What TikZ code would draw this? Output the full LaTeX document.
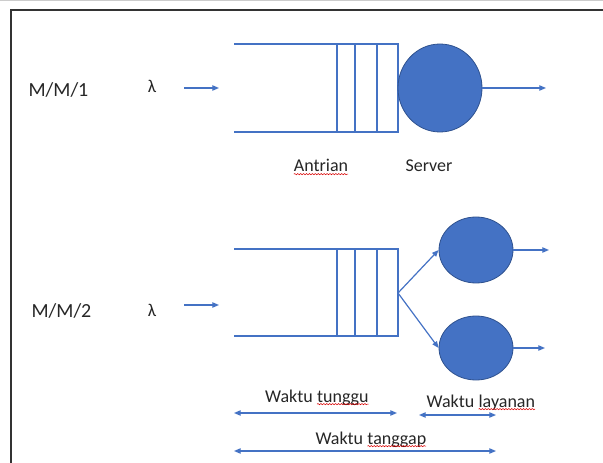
\documentclass[tikz,border=0pt]{standalone}
\usepackage{fontspec}
\setmainfont{Carlito}
\usetikzlibrary{arrows.meta,shapes.geometric,decorations.pathmorphing}
\definecolor{qblue}{HTML}{4472C4}
\definecolor{qdark}{HTML}{2F528F}
\definecolor{txt}{HTML}{262626}
\newcommand{\spellerr}[1]{\tikz[baseline=(w.base)]{\node[inner sep=0pt,outer sep=0pt,anchor=base](w){#1};\draw[red!85!black,line width=0.4pt,decorate,decoration={snake,amplitude=0.45pt,segment length=2.2pt}]([yshift=-1.6pt]w.base west)--([yshift=-1.6pt]w.base east);}}
\begin{document}
\begin{tikzpicture}[x=0.75pt,y=-0.75pt,
  qline/.style={draw=qblue,line width=0.9pt},
  flow/.style={draw=qblue,line width=0.9pt,-{Triangle[length=5pt,width=4pt]}},
  dim/.style={draw=qblue,line width=0.9pt,{Triangle[length=5pt,width=4pt]}-{Triangle[length=5pt,width=4pt]}},
  srv/.style={ellipse,fill=qblue,draw=qdark,line width=0.6pt,inner sep=0pt},
  lbl/.style={text=txt,font=\fontsize{13.5pt}{16pt}\selectfont,inner sep=0pt,anchor=base},
  big/.style={lbl,font=\fontsize{15pt}{18pt}\selectfont}]
\useasboundingbox (0,0) rectangle (603,463);
% frame
\draw[gray!40,line width=0.6pt] (0,0.5) -- (603,0.5);
\draw[black!80,line width=0.9pt] (11,463) -- (11,10) -- (603,10);

% ---------- M/M/1 ----------
\node[big] (mm1) at (58.5,97) {M/M/1};
\node[lbl] (lam1) at (152,93) {λ};
\coordinate (in1a) at (184,88);
\coordinate (in1b) at (219,88);
\draw[flow] (in1a) -- (in1b);
\draw[qline] (234,44) -- (398,44) -- (398,132) -- (234,132);
\draw[qline] (337,44) -- (337,132);
\draw[qline] (355,44) -- (355,132);
\draw[qline] (377,44) -- (377,132);
\node[srv,minimum width=63pt,minimum height=66pt] (s1) at (440,88) {};
\coordinate (out1) at (546,88);
\draw[flow] (s1.east) -- (out1);
\node[lbl] (antrian) at (321,172) {\spellerr{Antrian}};
\node[lbl] (server) at (429,172) {Server};

% ---------- M/M/2 ----------
\node[big] (mm2) at (61.5,317) {M/M/2};
\node[lbl] (lam2) at (152,316) {λ};
\coordinate (in2a) at (184,305);
\coordinate (in2b) at (219,305);
\draw[flow] (in2a) -- (in2b);
\draw[qline] (234,249) -- (398,249) -- (398,336) -- (234,336);
\draw[qline] (337,249) -- (337,336);
\draw[qline] (355,249) -- (355,336);
\draw[qline] (377,249) -- (377,336);
\coordinate (fork) at (398,293);
\node[srv,minimum width=55.5pt,minimum height=49.5pt] (s2a) at (476,250) {};
\node[srv,minimum width=55.5pt,minimum height=48pt] (s2b) at (476,348) {};
\draw[flow] (fork) -- (s2a.west);
\draw[flow] (fork) -- (s2b.west);
\coordinate (out2a) at (549,250);
\coordinate (out2b) at (545,348);
\draw[flow] (s2a.east) -- (out2a);
\draw[flow] (s2b.east) -- (out2b);

% ---------- times ----------
\node[lbl] (wt) at (317,402) {Waktu \spellerr{tunggu}};
\coordinate (wtA) at (234,413);
\coordinate (wtB) at (397,413);
\draw[dim] (wtA) -- (wtB);
\node[lbl] (wl) at (481,407) {Waktu \spellerr{layanan}};
\coordinate (wlA) at (419,415);
\coordinate (wlB) at (496,415);
\draw[dim] (wlA) -- (wlB);
\node[lbl] (wg) at (371,444) {Waktu \spellerr{tanggap}};
\coordinate (wgA) at (234,451);
\coordinate (wgB) at (496,451);
\draw[dim] (wgA) -- (wgB);
\end{tikzpicture}
\end{document}
